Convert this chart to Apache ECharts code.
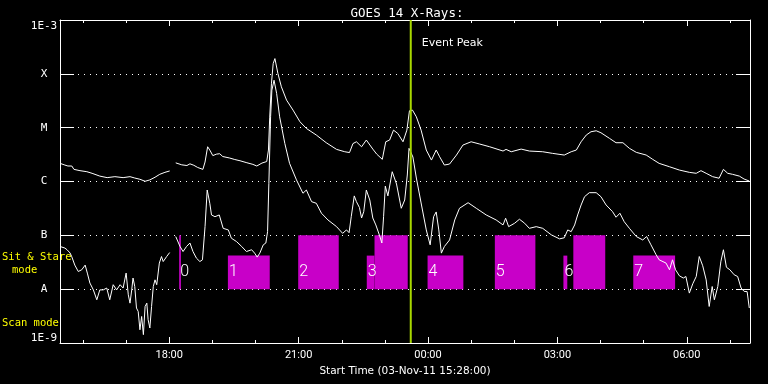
<!DOCTYPE html>
<html><head><meta charset="utf-8">
<script src="https://cdn.jsdelivr.net/npm/echarts@6/dist/echarts.min.js"></script>
<style>html,body{margin:0;padding:0;background:#000}#c{width:768px;height:384px}</style>
</head><body><div id="c"></div><script>
// ---- data (time in hours since 00:00 on 03-Nov-11; flux in W/m^2) ----
const chartTitle = 'GOES 14 X-Rays:';
const xAxisTitle = 'Start Time (03-Nov-11 15:28:00)';
const startHour = 15 + 28 / 60;
const endHour = startHour + 16;

const longTime = [
15.47,15.58,15.65,15.74,15.79,15.93,16.09,16.21,16.39,16.56,
16.74,16.93,17.09,17.20,17.32,17.44,17.55,17.67,17.78,17.90,
18.01,18.08,18.15,18.29,18.41,18.48,18.57,18.66,18.78,18.83,
18.89,18.94,19.01,19.10,19.17,19.24,19.40,19.52,19.64,19.80,
19.94,20.03,20.15,20.26,20.30,20.33,20.37,20.41,20.45,20.49,
20.52,20.60,20.72,20.87,21.03,21.18,21.41,21.64,21.88,22.07,
22.18,22.26,22.34,22.46,22.57,22.72,22.81,22.94,23.02,23.11,
23.20,23.30,23.42,23.51,23.57,23.64,23.73,23.84,23.96,24.08,
24.19,24.27,24.38,24.50,24.66,24.81,25.00,25.20,25.43,25.74,
25.81,25.93,26.16,26.35,26.66,26.89,27.16,27.32,27.44,27.55,
27.67,27.78,27.90,28.01,28.21,28.36,28.52,28.67,28.83,29.06,
29.21,29.36,29.60,29.83,30.06,30.22,30.33,30.45,30.60,30.75,
30.85,30.95,31.06,31.22,31.33,31.45];
const longFlux = [
2.17e-6,2.02e-6,1.94e-6,1.94e-6,1.68e-6,1.59e-6,1.52e-6,1.42e-6,1.26e-6,1.18e-6,
1.23e-6,1.18e-6,1.23e-6,1.16e-6,1.10e-6,1.01e-6,1.07e-6,1.20e-6,1.36e-6,1.48e-6,
1.57e-6,null,2.22e-6,2.04e-6,1.98e-6,2.13e-6,2.00e-6,1.82e-6,1.68e-6,2.30e-6,
4.42e-6,3.84e-6,3.03e-6,3.23e-6,3.28e-6,2.91e-6,2.73e-6,2.56e-6,2.43e-6,2.23e-6,
2.08e-6,1.94e-6,2.20e-6,2.35e-6,3.84e-6,1.57e-5,6.7e-5,1.55e-4,1.92e-4,1.79e-4,
1.01e-4,5.74e-5,3.25e-5,2.12e-5,1.29e-5,9.67e-6,7.3e-6,5.25e-6,3.95e-6,3.57e-6,
3.45e-6,5.07e-6,5.47e-6,4.42e-6,5.89e-6,4.0e-6,3.23e-6,2.58e-6,5.47e-6,5.89e-6,
9.0e-6,7.8e-6,5.47e-6,9.0e-6,2.06e-5,2.12e-5,1.59e-5,9.0e-6,3.84e-6,2.50e-6,
3.84e-6,2.88e-6,2.02e-6,2.11e-6,3.10e-6,4.75e-6,5.47e-6,4.96e-6,4.42e-6,3.68e-6,
3.95e-6,3.57e-6,4.0e-6,3.68e-6,3.57e-6,3.33e-6,3.10e-6,3.57e-6,3.84e-6,5.47e-6,
7.3e-6,8.4e-6,8.75e-6,8.05e-6,6.32e-6,5.25e-6,5.25e-6,4.13e-6,3.48e-6,3.10e-6,
2.58e-6,2.17e-6,1.88e-6,1.63e-6,1.48e-6,1.42e-6,1.59e-6,1.42e-6,1.23e-6,1.15e-6,
1.68e-6,1.42e-6,1.36e-6,1.26e-6,1.11e-6,1.02e-6];

const shortTime = [
15.47,15.58,15.63,15.70,15.74,15.81,15.89,15.97,16.05,16.10,
16.16,16.24,16.32,16.39,16.47,16.55,16.62,16.70,16.78,16.86,
16.93,17.00,17.05,17.09,17.13,17.16,17.20,17.24,17.28,17.32,
17.36,17.40,17.44,17.48,17.51,17.55,17.59,17.63,17.67,17.71,
17.77,17.82,17.86,17.94,18.01,18.08,18.15,18.25,18.32,18.40,
18.48,18.55,18.63,18.71,18.77,18.83,18.88,18.94,18.98,19.06,
19.16,19.25,19.37,19.44,19.56,19.68,19.79,19.91,19.98,20.04,
20.10,20.18,20.24,20.28,20.31,20.35,20.38,20.43,20.49,20.56,
20.68,20.79,20.95,21.10,21.18,21.30,21.41,21.53,21.68,21.88,
22.02,22.11,22.17,22.22,22.29,22.34,22.41,22.46,22.51,22.57,
22.65,22.72,22.79,22.88,22.93,22.97,23.01,23.07,23.17,23.27,
23.38,23.46,23.52,23.56,23.65,23.73,23.84,23.96,24.05,24.13,
24.19,24.25,24.31,24.38,24.50,24.62,24.73,24.93,25.12,25.35,
25.58,25.74,25.80,25.87,26.01,26.12,26.24,26.35,26.51,26.66,
26.86,27.05,27.16,27.24,27.32,27.40,27.47,27.55,27.63,27.74,
27.90,28.01,28.13,28.28,28.36,28.45,28.55,28.67,28.83,28.98,
29.07,29.17,29.29,29.36,29.52,29.60,29.67,29.74,29.83,29.92,
29.98,30.06,30.14,30.22,30.29,30.37,30.45,30.52,30.59,30.64,
30.72,30.79,30.85,30.92,31.00,31.10,31.18,31.26,31.33,31.40,31.45];
const shortFlux = [
6.2e-8,5.8e-8,5.4e-8,4.7e-8,4.0e-8,2.8e-8,2.13e-8,2.29e-8,2.8e-8,1.99e-8,
1.30e-8,9.7e-9,6.35e-9,9.7e-9,9.7e-9,1.05e-8,6.35e-9,1.21e-8,9.7e-9,1.21e-8,
1.05e-8,1.99e-8,7.86e-9,5.5e-9,9.7e-9,1.61e-8,1.12e-8,4.46e-9,3.85e-9,1.76e-9,
3.11e-9,1.43e-9,4.77e-9,5.5e-9,2.71e-9,1.9e-9,4.77e-9,1.12e-8,1.49e-8,1.21e-8,
3.05e-8,4.04e-8,3.26e-8,4.04e-8,4.79e-8,null,9.5e-8,6.2e-8,5.0e-8,6.2e-8,
7.2e-8,5.0e-8,3.77e-8,3.26e-8,3.51e-8,1.45e-7,6.95e-7,3.94e-7,2.39e-7,2.22e-7,
2.39e-7,1.35e-7,1.26e-7,8.85e-8,7.66e-8,6.2e-8,5.0e-8,5.4e-8,4.67e-8,3.94e-8,
4.67e-8,6.66e-8,7.2e-8,1.17e-7,9.25e-7,1.59e-5,4.98e-5,7.6e-5,4.33e-5,1.59e-5,
5.1e-6,2.17e-6,1.07e-6,6.05e-7,6.95e-7,4.22e-7,3.94e-7,2.57e-7,1.93e-7,1.45e-7,
1.09e-7,1.26e-7,1.12e-7,2.22e-7,5.4e-7,4.22e-7,3.29e-7,2.10e-7,2.75e-7,6.95e-7,
4.53e-7,2.10e-7,1.56e-7,9.75e-8,7.2e-8,2.22e-7,8.2e-7,5.4e-7,1.52e-6,8.98e-7,
3.18e-7,4.53e-7,1.32e-6,4.13e-6,2.85e-6,1.16e-6,3.99e-7,1.26e-7,6.66e-8,2.22e-7,
2.72e-7,1.26e-7,4.67e-8,6.2e-8,8.2e-8,1.93e-7,3.18e-7,4.04e-7,3.18e-7,2.39e-7,
1.93e-7,1.56e-7,2.08e-7,1.45e-7,1.68e-7,1.99e-7,1.68e-7,1.35e-7,1.45e-7,1.35e-7,
1.02e-7,8.6e-8,9.0e-8,1.26e-7,1.17e-7,1.56e-7,2.39e-7,3.66e-7,5.22e-7,6.2e-7,
6.2e-7,5.22e-7,3.66e-7,2.75e-7,2.17e-7,2.57e-7,1.79e-7,1.35e-7,9.5e-8,8.2e-8,
9.5e-8,6.66e-8,4.35e-8,3.51e-8,3.05e-8,2.29e-8,3.51e-8,2.29e-8,1.77e-8,1.61e-8,
1.72e-8,8.45e-9,1.26e-8,1.72e-8,4.04e-8,2.72e-8,1.49e-8,4.77e-9,1.12e-8,6.35e-9,
1.12e-8,3.22e-8,5.4e-8,2.55e-8,2.29e-8,1.85e-8,1.72e-8,1.05e-8,9.1e-9,9.0e-9,4.46e-9];

// observing-mode blocks
const barStart = [18.23,19.36,20.99,22.58,22.76,23.99,25.55,27.14,27.37,28.76];
const barEnd   = [18.27,20.33,21.93,22.76,23.53,24.82,26.49,27.23,28.11,29.73];
const barTop   = [1e-7,4.2e-8,1e-7,4.2e-8,1e-7,4.2e-8,1e-7,4.2e-8,1e-7,4.2e-8];
const barBase = 1e-8;
const barLabels = ['0','1','2','3','','4','5','6','','7'];
const barLabelLevel = 2.1e-8;

const eventPeakHour = 23.60;
const eventPeakLabel = 'Event Peak';
const eventLabelLevel = 3.7e-4;

const minorTickHours = [16,17,18,19,20,21,22,23,24,25,26,27,28,29,30,31];
const majorTickHours = [18,21,24,27,30];
const majorTickLabels = ['18:00','21:00','00:00','03:00','06:00'];

const yTickValues = [1e-9,1e-8,1e-7,1e-6,1e-5,1e-4,1e-3];
const yTickLabels = ['1E-9','A','B','C','M','X','1E-3'];

const modeTexts = ['Sit & Stare', 'mode', 'Scan mode'];

// ---- chart ----
const WHITE = '#ffffff';
const MAGENTA = '#c800c8';
const PEAK = '#a8d800';
const toSeries = (ts, vs) => ts.map((t, i) => [t, vs[i] == null ? '-' : vs[i]]);

function yLabel(v) {
  const e = Math.log10(v);
  for (let i = 0; i < yTickValues.length; i++) {
    if (Math.abs(Math.log10(yTickValues[i]) - e) < 0.01) {
      if (i === yTickValues.length - 1) return '{top|' + yTickLabels[i] + '}';
      if (i === 0) return '{bot|' + yTickLabels[i] + '}';
      return yTickLabels[i];
    }
  }
  return '';
}
function xLabel(v) {
  const i = majorTickHours.findIndex(h => Math.abs(h - v) < 1e-6);
  return i >= 0 ? majorTickLabels[i] : '';
}

const xBase = {type: 'value', min: startHour, max: endHour, gridIndex: 0,
  splitLine: {show: false}, axisLabel: {show: false}};
const chart = echarts.init(document.getElementById('c'), null, {renderer: 'canvas'});
chart.setOption({
  backgroundColor: '#000',
  animation: false,
  title: {text: chartTitle, left: 402, top: 2, textAlign: 'center',
    textStyle: {color: WHITE, fontSize: 12.5, fontWeight: 'normal', fontFamily: 'DejaVu Sans Mono'}},
  grid: {left: 60, right: 18, top: 20, bottom: 41, containLabel: false},
  xAxis: [
    Object.assign({}, xBase, {position: 'bottom',
      axisLine: {show: true, lineStyle: {color: WHITE, width: 1}},
      axisTick: {show: true, inside: true, length: 6, customValues: majorTickHours, lineStyle: {color: WHITE}},
      axisLabel: {show: true, customValues: majorTickHours, formatter: xLabel, color: WHITE,
        fontSize: 11, fontFamily: 'Roboto', margin: 7},
      name: xAxisTitle, nameLocation: 'middle', nameGap: 20,
      nameTextStyle: {color: WHITE, fontSize: 10.5, fontFamily: 'DejaVu Sans'}}),
    Object.assign({}, xBase, {position: 'bottom', axisLine: {show: false},
      axisTick: {show: true, inside: true, length: 3, customValues: minorTickHours, lineStyle: {color: WHITE}}}),
    Object.assign({}, xBase, {position: 'top',
      axisLine: {show: true, lineStyle: {color: WHITE, width: 1}},
      axisTick: {show: true, inside: true, length: 6, customValues: majorTickHours, lineStyle: {color: WHITE}}}),
    Object.assign({}, xBase, {position: 'top', axisLine: {show: false},
      axisTick: {show: true, inside: true, length: 3, customValues: minorTickHours, lineStyle: {color: WHITE}}})
  ],
  yAxis: [
    {type: 'log', logBase: 10, min: 1e-9, max: 1e-3, position: 'left',
      axisLine: {show: true, lineStyle: {color: WHITE, width: 1}},
      axisTick: {show: true, inside: true, length: 14, lineStyle: {color: WHITE}},
      axisLabel: {show: true, formatter: yLabel, color: WHITE, fontSize: 11, fontFamily: 'DejaVu Sans Mono',
        margin: 16, align: 'center',
        rich: {top: {padding: [12, 0, 0, 0], color: WHITE, fontSize: 11, fontFamily: 'DejaVu Sans Mono'},
               bot: {padding: [0, 0, 10, 0], color: WHITE, fontSize: 11, fontFamily: 'DejaVu Sans Mono'}}},
      splitLine: {show: true, lineStyle: {color: WHITE, width: 1, type: [1, 5]}}},
    {type: 'log', logBase: 10, min: 1e-9, max: 1e-3, position: 'right',
      axisLine: {show: true, lineStyle: {color: WHITE, width: 1}},
      axisTick: {show: true, inside: true, length: 14, lineStyle: {color: WHITE}},
      axisLabel: {show: false}, splitLine: {show: false}}
  ],
  graphic: [
    {type: 'text', left: 2, top: 252, style: {text: modeTexts[0], fill: '#ffff00', font: '10.5px "DejaVu Sans Mono"'}},
    {type: 'text', left: 12, top: 265, style: {text: modeTexts[1], fill: '#ffff00', font: '10.5px "DejaVu Sans Mono"'}},
    {type: 'text', left: 2, top: 318, style: {text: modeTexts[2], fill: '#ffff00', font: '10.5px "DejaVu Sans Mono"'}}
  ],
  series: [
    {type: 'custom', z: 1, xAxisIndex: 0, yAxisIndex: 0, clip: true,
      data: barStart.map((s, i) => [s, barEnd[i], barTop[i], barBase]),
      encode: {x: [0, 1], y: [2, 3]},
      renderItem: function (params, api) {
        const i = params.dataIndex;
        const p0 = api.coord([api.value(0), api.value(2)]);
        const p1 = api.coord([api.value(1), api.value(3)]);
        const children = [{type: 'rect', shape: {x: p0[0], y: p0[1], width: p1[0] - p0[0], height: p1[1] - p0[1]},
          style: {fill: MAGENTA}}];
        if (barLabels[i]) {
          const pl = api.coord([api.value(0), barLabelLevel]);
          children.push({type: 'text', x: pl[0] + 1, y: pl[1], z2: 5,
            style: {text: barLabels[i], fill: WHITE, fontSize: 16, fontFamily: 'Roboto', fontWeight: 300,
              align: 'left', verticalAlign: 'middle'}});
        }
        return {type: 'group', children: children};
      }},
    {type: 'line', z: 2, xAxisIndex: 0, yAxisIndex: 0, data: toSeries(longTime, longFlux),
      showSymbol: false, symbol: 'none', connectNulls: false, lineStyle: {color: WHITE, width: 1}},
    {type: 'line', z: 2, xAxisIndex: 0, yAxisIndex: 0, data: toSeries(shortTime, shortFlux),
      showSymbol: false, symbol: 'none', connectNulls: false, lineStyle: {color: WHITE, width: 1}},
    {type: 'custom', z: 3, xAxisIndex: 0, yAxisIndex: 0,
      data: [[eventPeakHour, 1e-3, 1e-9]], encode: {x: 0, y: [1, 2]},
      renderItem: function (params, api) {
        const a = api.coord([api.value(0), api.value(1)]);
        const b = api.coord([api.value(0), api.value(2)]);
        const l = api.coord([api.value(0), eventLabelLevel]);
        return {type: 'group', children: [
          {type: 'line', shape: {x1: a[0], y1: a[1], x2: b[0], y2: b[1]}, style: {stroke: PEAK, lineWidth: 2}},
          {type: 'text', x: a[0] + 11, y: l[1], style: {text: eventPeakLabel, fill: WHITE, fontSize: 11,
            fontFamily: 'DejaVu Sans', align: 'left', verticalAlign: 'middle'}}
        ]};
      }}
  ]
});
</script></body></html>
